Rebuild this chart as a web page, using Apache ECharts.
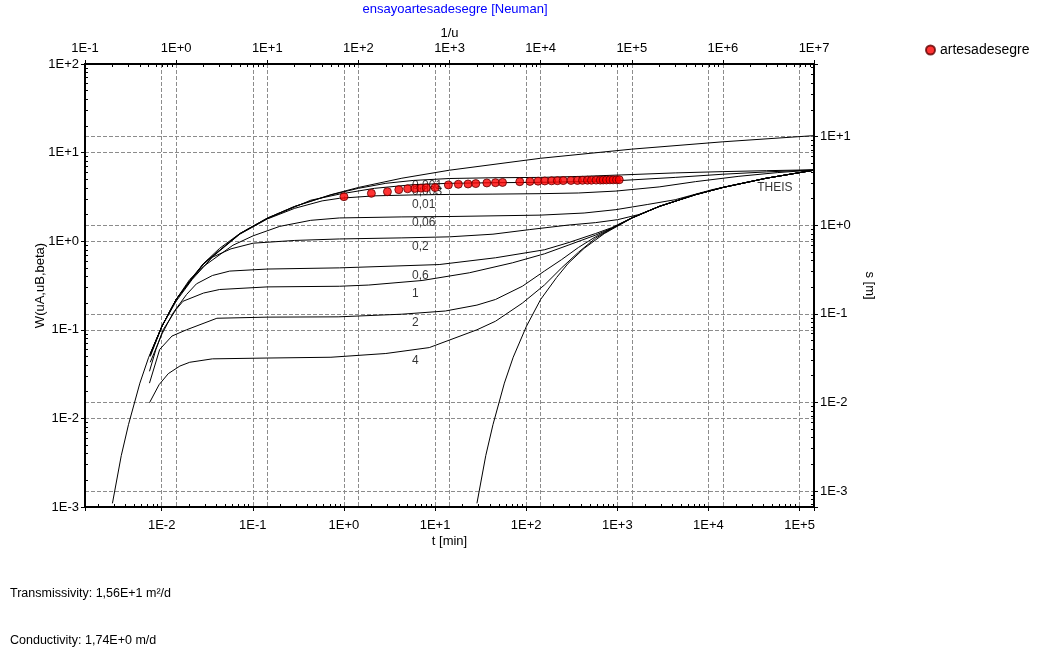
<!DOCTYPE html>
<html lang="en">
<head>
    <meta charset="UTF-8">
    <title>ensayoartesadesegre [Neuman]</title>
    <script src="https://cdn.jsdelivr.net/npm/echarts@6.0.0/dist/echarts.min.js"></script>
    <style type="text/css">
        html, body { margin: 0; padding: 0; background: #fff; }
        #myChart { width: 1049px; height: 651px; }
    </style>
</head>
<body>
<div id="myChart"></div>

<script>
    // type curves, [1/u, W]
    const theisA = [[0.2,0.0011],[0.25,0.0038],[0.3,0.0085],[0.4,0.025],[0.5,0.049],[0.7,0.11],[1,0.22],[1.5,0.39],[2,0.56],[3,0.83],[5,1.22],[10,1.82],[20,2.47],[50,3.35],[100,4.04],[300,5.14],[1000,6.33],[1e4,8.63],[1e5,10.94],[1e6,13.24],[1e7,15.54]];
    const theisB = [[2000,0.0011],[2500,0.0038],[3000,0.0085],[4000,0.025],[5000,0.049],[7000,0.11],[1e4,0.22],[1.5e4,0.39],[2e4,0.56],[3e4,0.83],[5e4,1.22],[1e5,1.82],[2e5,2.47],[5e5,3.35],[1e6,4.04],[3e6,5.14],[1e7,6.33]];

    const beta0001 = [[0.52,0.053],[0.7,0.11],[1,0.22],[2,0.56],[5,1.22],[10,1.82],[20,2.47],[50,3.33],[100,3.95],[200,4.5],[400,4.85],[1000,5.1],[3000,5.2],[1e4,5.25],[3e4,5.4],[7.8e4,5.6],[3e5,5.9],[1e6,6.1],[3e6,6.25],[1e7,6.4]];
    const beta0003 = [[0.52,0.053],[0.7,0.11],[1,0.22],[2,0.56],[5,1.21],[10,1.8],[30,2.9],[62,3.4],[150,3.95],[400,4.35],[1000,4.5],[3000,4.57],[1e4,4.62],[3e4,4.7],[7.8e4,4.85],[3e5,5.25],[1e6,5.7],[3e6,6.05],[1e7,6.38]];
    const beta001 = [[0.52,0.053],[0.7,0.11],[1,0.22],[2,0.55],[5,1.2],[10,1.78],[20,2.35],[40,2.85],[62,3.05],[150,3.25],[400,3.33],[1000,3.37],[3000,3.4],[1e4,3.44],[2.6e4,3.5],[6.7e4,3.68],[2e5,4.1],[5e5,4.7],[1.5e6,5.4],[4e6,5.95],[1e7,6.36]];
    const beta006 = [[0.52,0.052],[0.7,0.11],[1,0.22],[1.41,0.37],[2,0.52],[4.2,0.9],[7,1.15],[13.7,1.47],[30,1.72],[62,1.83],[300,1.88],[1000,1.9],[1e4,1.97],[3e4,2.08],[6.7e4,2.27],[1.5e5,2.6],[3e5,2.94],[7.6e5,3.81],[1.3e6,4.3],[3e6,5.14],[1e7,6.33]];
    const beta02 = [[0.52,0.05],[0.7,0.11],[1,0.21],[1.5,0.37],[2.5,0.66],[4,0.82],[7,0.95],[20,1.02],[62,1.06],[300,1.09],[1000,1.12],[3000,1.2],[7500,1.35],[2e4,1.52],[4e4,1.62],[7e4,1.75],[1.2e5,2.0],[2.1e5,2.5],[5e5,3.35],[1e6,4.04],[3e6,5.14],[1e7,6.33]];
    const beta06 = [[0.52,0.043],[0.7,0.09],[0.93,0.156],[1.3,0.25],[1.67,0.33],[2.5,0.41],[3.87,0.46],[10,0.485],[62,0.5],[770,0.545],[3200,0.65],[1.1e4,0.8],[2e4,0.96],[4e4,1.22],[6e4,1.42],[1e5,1.83],[2e5,2.47],[5e5,3.35],[1e6,4.04],[3e6,5.14],[1e7,6.33]];
    const beta1 = [[0.51,0.034],[0.6,0.06],[0.72,0.1],[1,0.17],[1.19,0.21],[2,0.26],[3,0.285],[10,0.305],[62,0.31],[130,0.32],[500,0.36],[1650,0.44],[4900,0.57],[1.1e4,0.72],[2e4,0.9],[4e4,1.17],[6e4,1.4],[1e5,1.83],[2e5,2.47],[5e5,3.35],[1e6,4.04],[3e6,5.14],[1e7,6.33]];
    const beta2 = [[0.51,0.025],[0.66,0.06],[0.9,0.085],[1.3,0.1],[2.8,0.135],[10,0.139],[60,0.14],[300,0.15],[900,0.163],[2000,0.19],[3200,0.22],[6300,0.31],[1.1e4,0.46],[1.7e4,0.62],[2.6e4,0.85],[4e4,1.12],[6e4,1.39],[1e5,1.83],[2e5,2.47],[5e5,3.35],[1e6,4.04],[3e6,5.14],[1e7,6.33]];
    const beta4 = [[0.51,0.015],[0.65,0.024],[0.82,0.032],[1.1,0.039],[1.41,0.043],[2.5,0.047],[10,0.048],[50,0.049],[200,0.054],[600,0.063],[2000,0.1],[3200,0.125],[6300,0.2],[1.1e4,0.32],[1.7e4,0.5],[2.6e4,0.75],[4e4,1.08],[6e4,1.38],[1e5,1.82],[2e5,2.47],[5e5,3.35],[1e6,4.04],[3e6,5.14],[1e7,6.33]];

    const curves = [theisA, theisB, beta0001, beta0003, beta001, beta006, beta02, beta06, beta1, beta2, beta4];

    // curve labels
    const labelText = ['0,001', '0,003', '0,01', '0,06', '0,2', '0,6', '1', '2', '4', 'THEIS'];
    const labelX = [388, 388, 388, 388, 388, 388, 388, 388, 388, 2.38e6];
    const labelW = [4.23, 3.62, 2.58, 1.62, 0.869, 0.41, 0.257, 0.121, 0.0452, 4.0];

    // measured drawdown
    const tMin = [1,2,3,4,5,6,7,8,10,14,18,23,28,37,46,55,85,110,135,160,190,220,255,310,365,415,470,520,585,650,700,760,830,900,980,1050];
    const sM = [2.10,2.29,2.39,2.52,2.58,2.6,2.62,2.64,2.66,2.85,2.9,2.92,2.95,3.0,3.02,3.04,3.1,3.12,3.14,3.16,3.17,3.18,3.19,3.2,3.2,3.21,3.22,3.22,3.23,3.23,3.24,3.24,3.25,3.25,3.26,3.26];

    // axis ranges
    const tRange = [1.44e-3, 1.44e5];
    const uRange = [0.1, 1e7];
    const wRange = [1e-3, 1e2];
    const sRange = [6.6e-4, 66];

    var myChart = echarts.init(document.getElementById('myChart'));

    function expLabel(v) {
        var l = Math.log10(v);
        var e = Math.round(l);
        if (Math.abs(l - e) > 0.01) return '';
        return '1E' + (e >= 0 ? '+' : '-') + Math.abs(e);
    }

    var font = 'Liberation Sans, Arial, sans-serif';
    var grid = { type: 'dashed', color: '#8c8c8c', width: 1 };

    function logAxis(extra) {
        return Object.assign({
            type: 'log',
            logBase: 10,
            nameLocation: 'middle',
            nameMoveOverlap: false,
            nameTextStyle: { fontFamily: font, fontSize: 13, color: '#000' },
            axisLine: { show: true, onZero: false, lineStyle: { color: '#000', width: 2 } },
            axisTick: { show: true, length: 4, lineStyle: { color: '#000' } },
            minorTick: { show: false },
            axisLabel: { formatter: expLabel, fontFamily: font, fontSize: 13, color: '#000', margin: 6 },
            splitLine: { show: true, lineStyle: grid }
        }, extra);
    }

    // second copy of an axis, only for the small inner ticks
    function minorAxis(pos, range) {
        return {
            type: 'log',
            logBase: 10,
            position: pos,
            min: range[0],
            max: range[1],
            axisLine: { show: false, onZero: false },
            axisTick: { show: false, inside: true },
            minorTick: { show: true, splitNumber: 9, length: 3, lineStyle: { color: '#000' } },
            axisLabel: { show: false },
            splitLine: { show: false }
        };
    }

    var series = curves.map(function (c) {
        return {
            type: 'line',
            xAxisIndex: 1,
            yAxisIndex: 0,
            data: c,
            symbol: 'none',
            showSymbol: false,
            silent: true,
            z: 2,
            lineStyle: { color: '#000', width: 1 }
        };
    });

    series.push({
        type: 'scatter',
        xAxisIndex: 1,
        yAxisIndex: 0,
        symbolSize: 0,
        silent: true,
        z: 2,
        data: labelText.map(function (t, i) {
            return { name: t, value: [labelX[i], labelW[i]] };
        }),
        label: {
            show: true,
            position: 'right',
            distance: 0,
            formatter: '{b}',
            fontFamily: font,
            fontSize: 12,
            color: '#000'
        }
    });

    series.push({
        name: 'artesadesegre',
        type: 'scatter',
        xAxisIndex: 0,
        yAxisIndex: 1,
        symbol: 'circle',
        symbolSize: 8,
        z: 5,
        itemStyle: { color: '#ff0000', borderColor: '#600000', borderWidth: 1 },
        data: tMin.map(function (t, i) { return [t, sM[i]]; })
    });

    var option = {
        animation: false,
        backgroundColor: '#fff',
        grid: { left: 85, right: 235, top: 64, bottom: 144, containLabel: false },
        legend: {
            data: ['artesadesegre'],
            left: 920,
            top: 38,
            icon: 'circle',
            itemWidth: 9,
            itemHeight: 9,
            itemGap: 6,
            textStyle: { fontFamily: font, fontSize: 14, color: '#000' }
        },
        xAxis: [
            logAxis({ position: 'bottom', min: tRange[0], max: tRange[1], name: 't [min]', nameGap: 28,
                axisLabel: { formatter: expLabel, fontFamily: font, fontSize: 13, color: '#000', margin: 12 } }),
            logAxis({ position: 'top', min: uRange[0], max: uRange[1], name: '1/u', nameGap: 24,
                axisLabel: { formatter: expLabel, fontFamily: font, fontSize: 13, color: '#000', margin: 9 } }),
            minorAxis('bottom', tRange),
            minorAxis('top', uRange)
        ],
        yAxis: [
            logAxis({ position: 'left', min: wRange[0], max: wRange[1], name: 'W(uA,uB,beta)', nameRotate: 90, nameGap: 38 }),
            logAxis({ position: 'right', min: sRange[0], max: sRange[1], name: 's [m]', nameRotate: -90, nameGap: 49 }),
            minorAxis('left', wRange),
            minorAxis('right', sRange)
        ],
        graphic: [
            { type: 'text', x: 455, y: 3, style: { text: 'ensayoartesadesegre [Neuman]', fill: '#0000ff', font: '13px ' + font, textAlign: 'center' } },
            { type: 'text', left: 10, top: 587, style: { text: 'Transmissivity: 1,56E+1 m\u00b2/d', fill: '#000', font: '12.5px ' + font } },
            { type: 'text', left: 10, top: 634, style: { text: 'Conductivity: 1,74E+0 m/d', fill: '#000', font: '12.5px ' + font } }
        ],
        series: series
    };

    myChart.setOption(option);
</script>
</body>
</html>
